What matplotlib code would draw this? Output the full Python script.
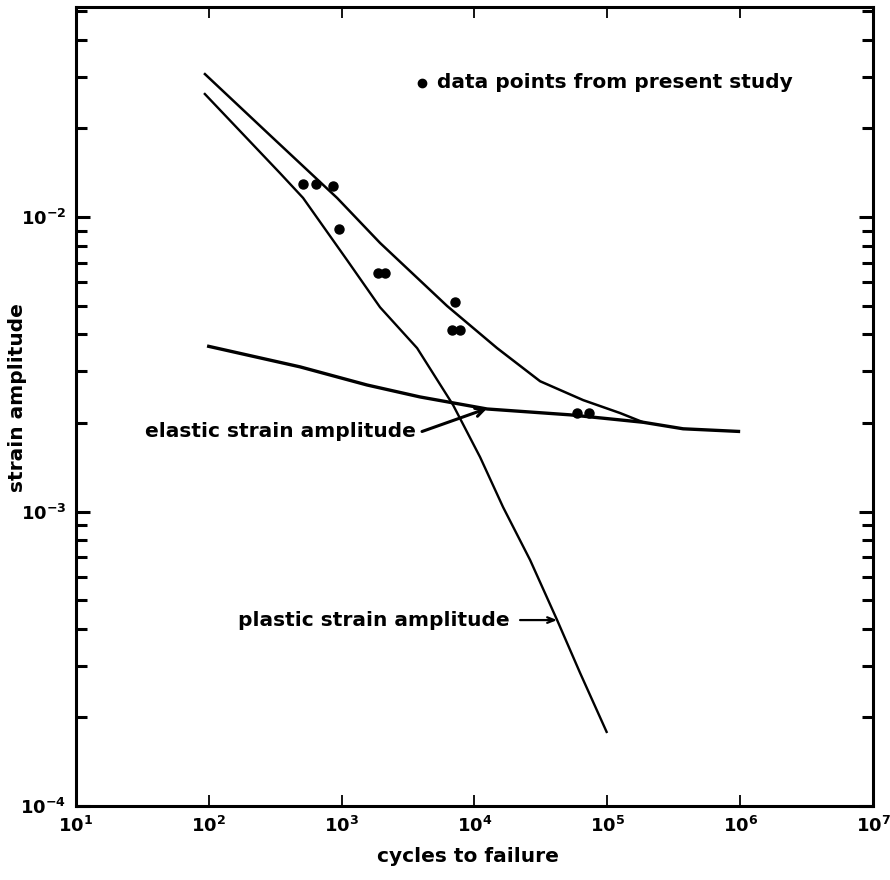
import matplotlib
matplotlib.use("Agg")
import matplotlib.pyplot as plt
from matplotlib.ticker import LogLocator, FixedLocator, NullFormatter

plt.rcParams['font.family'] = ['DejaVu Sans']
plt.rcParams['mathtext.fontset'] = 'custom'
plt.rcParams['mathtext.rm'] = 'DejaVu Sans:bold'
plt.rcParams['mathtext.bf'] = 'DejaVu Sans:bold'
plt.rcParams['mathtext.default'] = 'rm'

# total strain amplitude curve
total_x = [92, 289, 923, 1945, 6220, 14790, 31200, 65800, 124800, 186000]
total_y = [0.0308, 0.01896, 0.01162, 0.00817, 0.00499, 0.00359, 0.00277, 0.00239, 0.00216, 0.00201]

# elastic strain amplitude curve
elastic_x = [97, 486, 1553, 3892, 12450, 52480, 186000, 372000, 1000000]
elastic_y = [0.00365, 0.00310, 0.00269, 0.00245, 0.00223, 0.00213, 0.00201, 0.00191, 0.00187]

# plastic strain amplitude curve
plastic_x = [92, 344, 512, 1099, 1945, 3698, 6900, 11020, 16410, 26240, 41880, 62370, 99600]
plastic_y = [0.02636, 0.01409, 0.01162, 0.00714, 0.00494, 0.00359, 0.00230, 0.00153,
             0.001035, 0.000684, 0.000428, 0.000283, 0.000177]

# data points from present study
pts_x = [512, 641, 861, 955, 1879, 2123, 7145, 6770, 7800, 59300, 72900]
pts_y = [0.01294, 0.01294, 0.01274, 0.00910, 0.00646, 0.00646, 0.00514, 0.00413, 0.00413,
         0.00216, 0.00216]

major_x = [1e1, 1e2, 1e3, 1e4, 1e5, 1e6, 1e7]
major_x_labels = [r'$10^{1}$', r'$10^{2}$', r'$10^{3}$', r'$10^{4}$', r'$10^{5}$', r'$10^{6}$', r'$10^{7}$']
major_y = [1e-4, 1e-3, 1e-2]
major_y_labels = [r'$10^{-4}$', r'$10^{-3}$', r'$10^{-2}$']

FS = 14.5

fig = plt.figure(figsize=(8.9, 8.8), dpi=100)
ax = fig.add_axes([76/890, 74/880, 797/890, 799/880])
ax.set_xscale('log')
ax.set_yscale('log')
ax.set_xlim(1e1, 1e7)
ax.set_ylim(1e-4, 0.0517)

ax.plot(total_x, total_y, color='black', lw=1.8, solid_capstyle='butt')
ax.plot(elastic_x, elastic_y, color='black', lw=2.4, solid_capstyle='butt')
ax.plot(plastic_x, plastic_y, color='black', lw=1.7, solid_capstyle='butt')
ax.plot(pts_x, pts_y, 'o', color='black', ms=6.5, mec='black')

for s in ax.spines.values():
    s.set_linewidth(2.2)

ax.xaxis.set_major_locator(FixedLocator(major_x))
ax.set_xticklabels(major_x_labels)
ax.xaxis.set_minor_formatter(NullFormatter())
ax.tick_params(axis='x', which='minor', length=0)
ax.yaxis.set_major_locator(FixedLocator(major_y))
ax.set_yticklabels(major_y_labels)
ax.yaxis.set_minor_locator(LogLocator(base=10, subs=[2, 3, 4, 5, 6, 7, 8, 9]))
ax.yaxis.set_minor_formatter(NullFormatter())

ax.tick_params(axis='x', which='major', direction='in', top=True, bottom=True,
               length=8, width=1.3, labelsize=13, pad=7)
ax.tick_params(axis='y', which='major', direction='in', left=True, right=True,
               length=10, width=2.2, labelsize=13, pad=7)
ax.tick_params(axis='y', which='minor', direction='in', left=True, right=True,
               length=8, width=2.2)

ax.set_xlabel('cycles to failure', fontsize=FS, fontweight='bold')
ax.xaxis.set_label_coords((468 - 76) / 797, -(847 - 806) / 799)
ax.set_ylabel('strain amplitude', fontsize=FS, fontweight='bold')
ax.yaxis.set_label_coords((27 - 76) / 797, (806 - 398) / 799)

# legend-like note
ax.plot([(422 - 76) / 797], [(806 - 83) / 799], 'o', color='black', ms=6,
        transform=ax.transAxes, clip_on=False)
ax.text((437 - 76) / 797, (806 - 83) / 799, 'data points from present study',
        transform=ax.transAxes, fontsize=FS, fontweight='bold', va='center', ha='left')

# elastic label and arrow
ax.text((145 - 76) / 797, (806 - 431) / 799, 'elastic strain amplitude',
        transform=ax.transAxes, fontsize=FS, fontweight='bold', va='center', ha='left')
ax.annotate('', xy=(12450, 0.00224), xytext=(4027, 0.00187),
            arrowprops=dict(arrowstyle='->,head_length=0.6,head_width=0.3', lw=2.2, color='black',
                            shrinkA=0, shrinkB=0))

# plastic label and arrow
ax.text((238 - 76) / 797, (806 - 620) / 799, 'plastic strain amplitude',
        transform=ax.transAxes, fontsize=FS, fontweight='bold', va='center', ha='left')
ax.annotate('', xy=(41880, 0.000428), xytext=(22030, 0.000428),
            arrowprops=dict(arrowstyle='->,head_length=0.5,head_width=0.2', lw=1.6, color='black',
                            shrinkA=0, shrinkB=0))

fig.savefig('out.png', dpi=100, facecolor='white')
